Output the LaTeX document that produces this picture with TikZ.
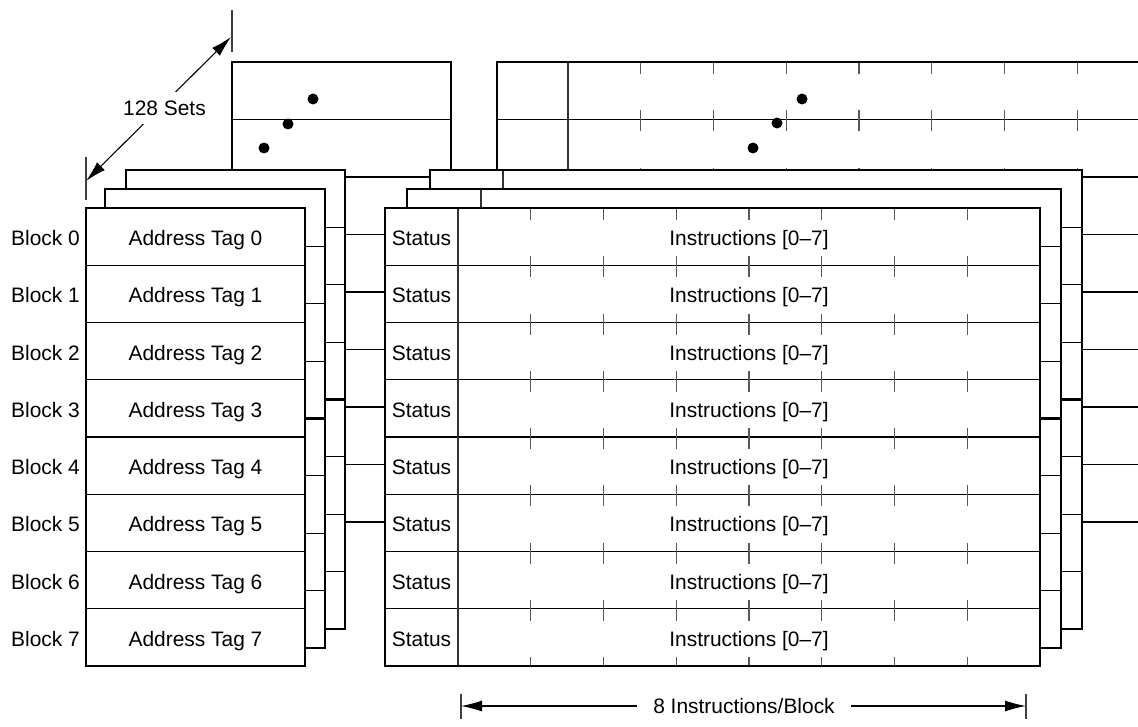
\documentclass[tikz,border=0pt]{standalone}
\usepackage{fontspec}
\setmainfont{Liberation Sans}
\usetikzlibrary{arrows.meta}
\tikzset{
  outer/.style={line width=2.9bp, line join=miter},
  rowline/.style={line width=1.2bp},
  midline/.style={line width=2.3bp},
  colline/.style={line width=1.2bp, black!80},
  tickline/.style={line width=1.3bp, black!65},
  dimline/.style={line width=1.1bp, black!75},
  arrline/.style={line width=1.1bp, {Latex[length=21bp,width=11bp]}-{Latex[length=21bp,width=11bp]}},
  lbl/.style={font=\fontsize{21}{25}\selectfont, inner sep=0pt},
  dotmark/.style={circle, fill=black, inner sep=0pt, minimum size=11bp},
}
\newcommand\layerL[4]{%
  \pgfmathsetmacro\myh{(#4-#2)/8}%
  \fill[white] (#1,#2) rectangle (#3,#4);
  \foreach \k in {1,2,3,5,6,7}{\draw[rowline] (#1,{#2+\k*\myh}) -- (#3,{#2+\k*\myh});}
  \draw[midline] (#1,{#2+4*\myh}) -- (#3,{#2+4*\myh});
  \draw[outer] (#1,#2) rectangle (#3,#4);
}
\newcommand\layerR[6]{%
  \pgfmathsetmacro\myh{(#4-#2)/8}%
  \pgfmathsetmacro\myw{(#3-#5)/8}%
  \fill[white] (#1,#2) rectangle (#3,#4);
  \foreach \k in {1,2,3,5,6,7}{\draw[rowline] (#1,{#2+\k*\myh}) -- (#3,{#2+\k*\myh});}
  \draw[midline] (#1,{#2+4*\myh}) -- (#3,{#2+4*\myh});
  \draw[colline] (#5,#2) -- (#5,#4);
  \ifnum#6=1
    \foreach \j in {1,...,7}{
      \foreach \k in {0,...,7}{
        \draw[tickline] ({#5+\j*\myw},{#2+\k*\myh}) -- ++(0,12)
                        ({#5+\j*\myw},{#2+(\k+1)*\myh}) -- ++(0,-9);
      }
    }
  \fi
  \draw[outer] (#1,#2) rectangle (#3,#4);
}
\begin{document}
\begin{tikzpicture}[x=1bp,y=-1bp]
\clip (0,0) rectangle (1138,727);
\fill[white] (0,0) rectangle (1138,727);
% back boxes (set 127)
\layerL{232}{62}{451}{522}
\layerR{497}{62}{1150}{522}{568}{1}
\node[dotmark] (dl1) at (313,99) {};
\node[dotmark] (dl2) at (288,124) {};
\node[dotmark] (dl3) at (264,148) {};
\node[dotmark] (dr1) at (802,99) {};
\node[dotmark] (dr2) at (777,123) {};
\node[dotmark] (dr3) at (753,148) {};
% layer 3
\layerL{126}{170}{345}{629}
\layerR{430}{170}{1082}{629}{503}{0}
% layer 2
\layerL{105}{189}{325}{648}
\layerR{407}{189}{1061}{648}{481}{0}
% front
\layerL{86}{208}{305}{666}
\layerR{385}{208}{1040}{666}{458}{1}
% texts
\foreach \i in {0,...,7}{
  \pgfmathsetmacro\yc{208+(\i+0.5)*57.25+9}
  \node[lbl, anchor=base east] (blk\i) at (80,\yc) {Block \i};
  \node[lbl, anchor=base] (tag\i) at (195.5,\yc) {Address Tag \i};
  \node[lbl, anchor=base] (st\i) at (421.5,\yc) {Status};
  \node[lbl, anchor=base] (ins\i) at (749,\yc) {Instructions [0–7]};
}
% 128 sets dimension
\coordinate (a1) at (86,181);
\coordinate (a2) at (231,37);
\draw[dimline] (86,157) -- (86,200);
\draw[dimline] (232,10) -- (232,52);
\draw[arrline] (a1) -- (a2);
\node[lbl, fill=white, inner xsep=3bp, inner ysep=9bp] (sets) at (164.5,108) {128 Sets};
% 8 instructions dimension
\coordinate (b1) at (461,706);
\coordinate (b2) at (1026,706);
\draw[dimline] (461,694) -- (461,719);
\draw[dimline] (1026,694) -- (1026,719);
\draw[arrline] (b1) -- (b2);
\node[lbl, fill=white, inner xsep=16bp, inner ysep=3bp] (width) at (744,706) {8 Instructions/Block};
\end{tikzpicture}
\end{document}
